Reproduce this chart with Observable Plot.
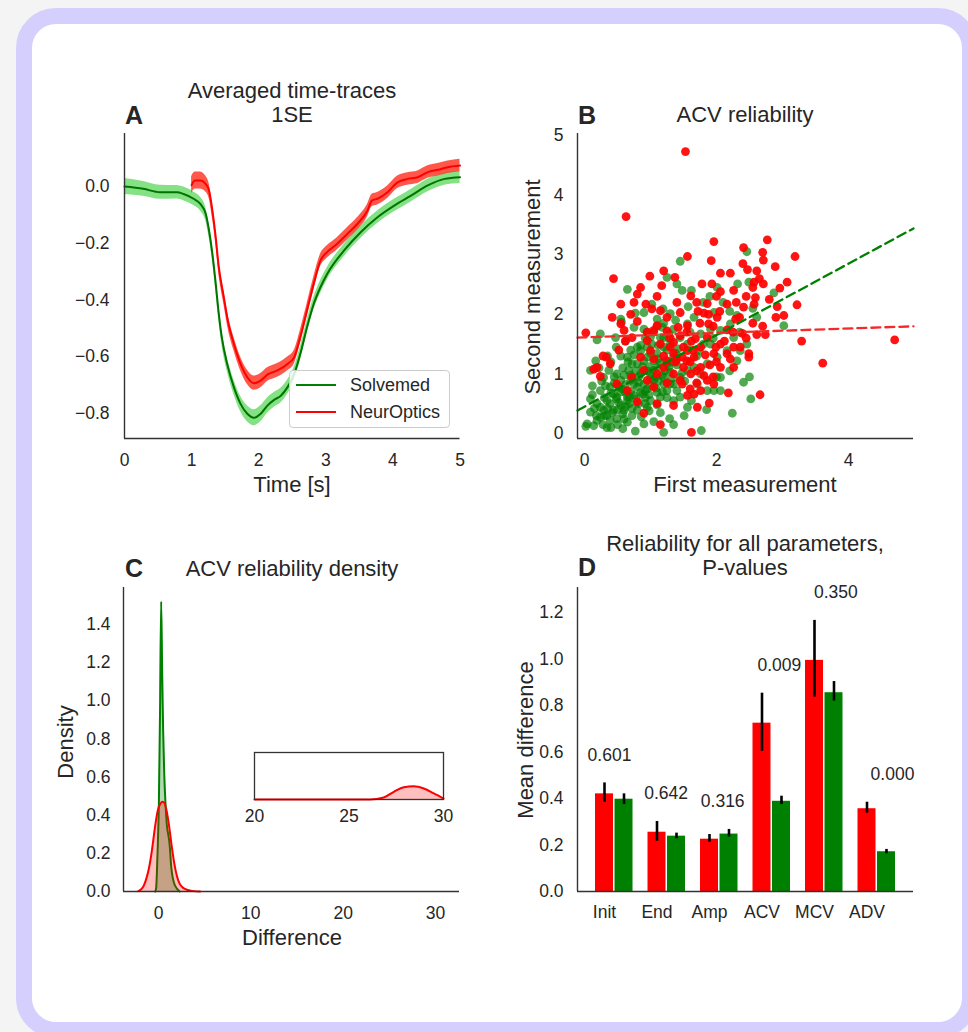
<!DOCTYPE html>
<html><head><meta charset="utf-8">
<script src="https://cdn.jsdelivr.net/npm/d3@7"></script>
<script src="https://cdn.jsdelivr.net/npm/@observablehq/plot@0.6"></script>
<style>
html,body{margin:0;padding:0;width:968px;height:1032px;overflow:hidden;background:#f4f4f4;font-family:"Liberation Sans",Arial,sans-serif;color:#262626;}
#card{position:absolute;left:16px;top:8px;width:962px;height:1030px;box-sizing:border-box;border:16px solid #d4cffd;border-radius:40px;background:#fff;}
.t{position:absolute;transform:translate(-50%,-50%);white-space:nowrap;line-height:1;color:#262626;}
.p{position:absolute;}
#legend{position:absolute;left:289px;top:370px;width:161px;height:58px;box-sizing:border-box;border:1px solid #cccccc;border-radius:4px;background:rgba(255,255,255,0.85);}
.lg{position:absolute;left:6px;width:40px;height:0;border-top:2.5px solid;}
.lt{position:absolute;left:60px;font-size:18px;line-height:1;transform:translateY(-50%);color:#262626;}
</style></head><body>
<div id="card"></div>
<script>
// ---------------- DATA ----------------
const seriesNames = ["Solvemed", "NeurOptics"];

// Panel A: averaged time traces (mean and standard error)
const greenT  = [0, 0.28, 0.53, 0.78, 0.88, 1.03, 1.13, 1.21, 1.26, 1.31, 1.36, 1.40, 1.45, 1.53, 1.63, 1.73, 1.83, 1.93, 2.03, 2.13, 2.23, 2.33, 2.43, 2.53, 2.62, 2.72, 2.82, 2.92, 3.02, 3.27, 3.52, 3.77, 4.02, 4.27, 4.52, 4.77, 5.0];
const greenV  = [0.0, -0.008, -0.02, -0.02, -0.026, -0.043, -0.061, -0.096, -0.155, -0.237, -0.343, -0.437, -0.531, -0.625, -0.707, -0.766, -0.801, -0.815, -0.801, -0.772, -0.752, -0.737, -0.707, -0.660, -0.590, -0.496, -0.414, -0.355, -0.308, -0.226, -0.161, -0.108, -0.067, -0.032, 0.004, 0.027, 0.033];
const greenSE = [0.028, 0.026, 0.025, 0.024, 0.024, 0.024, 0.024, 0.024, 0.024, 0.024, 0.024, 0.024, 0.025, 0.025, 0.026, 0.027, 0.028, 0.028, 0.028, 0.027, 0.026, 0.026, 0.025, 0.025, 0.024, 0.024, 0.023, 0.023, 0.022, 0.022, 0.022, 0.022, 0.022, 0.022, 0.022, 0.022, 0.022];
const redT  = [1.0, 1.05, 1.13, 1.21, 1.26, 1.31, 1.36, 1.40, 1.48, 1.55, 1.63, 1.73, 1.83, 1.93, 2.03, 2.13, 2.28, 2.43, 2.53, 2.62, 2.72, 2.82, 2.92, 3.02, 3.17, 3.32, 3.47, 3.62, 3.69, 3.77, 3.92, 4.07, 4.22, 4.37, 4.52, 4.67, 4.82, 5.0];
const redV  = [0.005, 0.021, 0.021, 0.009, -0.014, -0.085, -0.179, -0.273, -0.39, -0.484, -0.554, -0.625, -0.672, -0.693, -0.684, -0.663, -0.648, -0.625, -0.601, -0.531, -0.437, -0.343, -0.261, -0.231, -0.202, -0.167, -0.132, -0.085, -0.049, -0.043, -0.020, 0.015, 0.027, 0.033, 0.051, 0.059, 0.068, 0.074];
const redSE = [0.03, 0.03, 0.03, 0.028, 0.026, 0.025, 0.024, 0.024, 0.024, 0.024, 0.024, 0.024, 0.025, 0.025, 0.025, 0.024, 0.024, 0.024, 0.024, 0.024, 0.023, 0.023, 0.022, 0.022, 0.022, 0.022, 0.022, 0.022, 0.022, 0.022, 0.022, 0.022, 0.022, 0.022, 0.022, 0.022, 0.022, 0.022];

// Panel B: ACV first vs second measurement
const redPoints = [[1.53,4.73],[0.63,3.64],[0.44,2.60],[2.77,3.25],[1.96,3.22],[2.41,3.12],[3.19,2.97],[1.56,2.97],[2.70,3.04],[2.71,2.91],[1.92,2.90],[2.40,2.85],[2.89,2.80],[1.20,2.73],[2.06,2.69],[2.21,2.69],[2.47,2.75],[2.61,2.73],[0.99,2.64],[1.37,2.62],[3.07,2.54],[1.78,2.51],[1.93,2.51],[2.57,2.54],[2.71,2.51],[1.17,2.48],[2.96,2.44],[0.80,2.34],[1.61,2.31],[2.06,2.38],[2.26,2.40],[2.59,2.28],[3.22,2.16],[0.75,2.20],[0.93,2.17],[1.02,2.09],[1.40,2.20],[1.70,2.20],[1.86,2.18],[2.16,2.17],[2.41,2.12],[2.57,2.17],[2.92,2.13],[1.45,2.03],[1.81,2.02],[2.01,1.95],[2.29,1.92],[0.55,1.84],[0.80,1.88],[1.10,1.81],[1.56,1.81],[1.88,1.84],[3.02,1.98],[0.02,1.69],[2.61,1.66],[2.74,1.66],[2.39,1.68],[2.16,1.74],[1.25,1.72],[3.29,1.55],[4.70,1.57],[3.61,1.18],[2.66,0.65],[1.62,0.02],[1.15,0.15],[2.18,0.68],[1.89,0.51],[1.35,0.47],[1.10,0.50],[0.90,0.34],[0.95,0.89],[1.56,0.64],[1.66,0.66],[1.76,0.72],[1.81,0.97],[2.06,1.11],[2.21,1.25],[2.49,1.28],[2.49,1.34],[2.36,1.45],[1.99,1.45],[1.83,1.32],[1.66,1.28],[1.50,1.11],[1.45,0.89],[1.35,1.00],[1.25,1.22],[1.15,1.50],[1.00,1.39],[0.85,1.28],[0.52,1.40],[0.33,1.28],[0.19,1.11],[0.24,0.96],[0.14,1.08],[0.60,1.73],[0.72,1.61],[1.05,1.73],[0.95,1.56],[1.35,1.53],[1.68,1.59],[1.76,1.45],[1.96,1.34],[2.16,1.34],[2.26,1.11],[1.76,1.11],[1.61,1.00],[1.86,0.89],[1.96,0.83],[1.05,0.78],[0.80,0.53],[0.65,0.72],[0.49,0.83],[2.26,1.45],[2.06,1.50],[1.35,1.34],[1.48,1.28],[1.20,1.11],[1.10,1.00],[0.90,1.06],[0.72,0.94],[0.39,1.17],[1.56,1.39],[1.45,1.64],[1.86,1.61],[1.25,1.95],[1.15,2.06],[0.55,2.17],[1.48,0.83],[1.71,0.44],[1.30,1.45],[1.40,1.25],[1.60,1.20],[1.70,1.05],[1.20,1.30],
  [1.30,1.60],[1.42,1.78],[1.55,1.70],[1.62,1.55],[1.75,1.85],[1.88,2.00],[1.95,1.80],[2.05,2.05],[2.12,1.55],[2.25,1.70],[2.35,1.95],[2.45,2.30],[2.55,2.45],[2.65,2.60],[2.30,2.20],[2.00,2.30],[1.72,2.05],[1.50,1.45],[1.38,1.20],[1.55,1.22],[1.65,1.40],[1.90,1.15],[2.00,1.20],[1.95,0.95],[1.70,0.85],[1.60,0.75],[1.25,0.85],[1.05,1.25],[0.95,1.70],[0.70,2.00],[0.62,1.55],[0.42,1.95],[0.28,1.30],[0.85,2.45],[1.10,2.30],[2.80,2.25],[2.90,1.95],[2.55,1.85],[2.45,1.60],[2.70,1.80]];
const greenPoints = [[2.46,3.05],[1.45,2.89],[0.65,2.42],[1.48,2.40],[1.25,2.62],[1.40,2.51],[2.87,2.36],[2.49,2.54],[2.01,2.45],[2.32,2.51],[1.80,2.20],[3.02,1.81],[1.02,2.17],[1.19,2.09],[1.30,2.01],[0.77,2.02],[0.90,2.03],[0.55,1.92],[0.56,1.87],[0.75,1.78],[0.90,1.75],[1.20,1.85],[1.10,1.92],[0.24,1.67],[0.19,1.57],[0.47,1.61],[0.95,1.45],[1.20,1.61],[1.28,1.67],[1.35,1.75],[1.57,2.13],[1.66,1.95],[1.96,2.03],[1.91,1.75],[2.21,1.84],[2.31,1.98],[2.61,1.95],[2.26,1.61],[2.36,1.39],[2.31,1.22],[1.91,1.50],[1.73,1.39],[2.06,0.94],[2.41,0.86],[2.52,0.58],[2.24,0.34],[1.77,0.05],[1.51,0.30],[1.29,0.25],[1.20,0.02],[0.77,0.04],[0.90,0.16],[0.65,0.19],[0.49,0.25],[0.34,0.10],[0.14,0.13],[0.02,0.12],[0.09,0.36],[0.12,0.65],[0.09,1.06],[0.17,1.22],[0.29,0.94],[0.39,0.78],[0.55,0.89],[0.67,1.06],[0.80,1.17],[0.95,1.28],[1.10,1.34],[1.20,1.45],[1.30,1.50],[1.05,1.22],[0.85,1.00],[1.00,1.00],[1.10,1.11],[1.25,1.17],[1.35,1.28],[0.75,0.83],[0.90,0.83],[1.05,0.89],[1.20,0.94],[1.30,1.03],[0.62,0.69],[0.49,0.61],[0.39,0.50],[0.29,0.39],[0.24,0.27],[0.19,0.22],[0.34,0.30],[0.44,0.39],[0.55,0.47],[0.65,0.55],[0.75,0.64],[0.85,0.69],[0.95,0.75],[1.10,0.69],[1.25,0.72],[1.35,0.83],[1.45,0.94],[1.56,1.06],[1.66,1.11],[1.76,1.00],[1.86,1.17],[2.01,1.28],[1.96,0.72],[1.86,0.72],[1.71,0.83],[1.56,0.44],[1.35,0.55],[1.45,0.61],[1.00,0.55],[0.80,0.39],[0.60,0.39],[0.39,0.22],[0.24,0.44],[0.09,0.58],[0.44,0.66],[0.57,0.75],[0.70,0.89],[0.49,1.00],[0.37,1.06],[0.24,0.72],[0.85,1.39],[1.02,1.50],[1.15,1.61],[1.45,1.61],[1.56,1.50],[1.76,1.67],[1.56,1.84],[2.06,1.73],[2.46,1.50],[2.16,1.39],[2.06,0.72],[0.95,0.44],[1.15,0.61],[1.30,0.83],[0.72,1.17],[0.65,1.28],[0.90,1.22],[1.05,1.06],[1.20,0.83],[0.80,0.78],[0.65,0.61],[0.34,0.55],[0.19,0.50],[0.04,0.16],[0.52,0.52],[0.70,0.70],[0.82,0.95],[0.98,1.12],[1.12,1.25],[0.60,0.98],[0.45,0.85],[1.08,0.95],[0.92,0.60],[0.30,0.60],
  [0.30,0.30],[0.35,0.42],[0.42,0.35],[0.50,0.40],[0.58,0.33],[0.62,0.45],[0.68,0.50],[0.72,0.42],[0.78,0.58],[0.82,0.50],[0.88,0.66],[0.92,0.72],[0.98,0.65],[1.02,0.80],[1.08,0.76],[1.12,0.88],[1.18,0.98],[1.22,1.05],[1.28,1.12],[1.32,1.20],[1.38,1.35],[1.42,1.42],[1.15,1.18],[1.00,0.92],[0.95,1.05],[0.88,1.12],[0.78,1.05],[0.70,0.98],[0.62,0.82],[0.55,0.70],[0.48,0.58],[0.40,0.68],[0.32,0.80],[0.26,0.88],[0.45,0.95],[0.58,1.10],[0.66,1.20],[0.75,1.32],[0.85,1.48],[0.92,1.60],[1.05,1.70],[1.18,1.78],[1.25,1.40],[1.40,1.15],[1.48,1.02],[1.52,0.88],[1.40,0.72],[1.25,0.60],[1.10,0.48],[0.98,0.38],[0.86,0.28],[0.72,0.30],[0.60,0.24],[0.50,0.15],[0.40,0.10],[0.28,0.15],[0.18,0.30],[0.15,0.42],[0.12,0.80],[0.22,1.10],[0.35,1.30],[0.48,1.45],[0.62,1.55],[0.70,1.40],[0.95,1.70],[1.10,1.80],[1.38,1.90],[1.60,1.70],[1.70,1.30],[1.80,1.50],[1.95,1.60],[2.10,2.20],[2.20,2.05],[2.35,1.70],[2.55,2.10],[1.90,2.30],[1.62,2.40],[1.15,0.35],[1.05,0.20],[0.58,0.08],[1.35,0.15],[1.62,0.55],[1.85,0.40],[2.00,0.95],[2.20,1.05],[2.50,0.95],[0.80,1.45],[1.00,1.62],[0.40,1.20],[0.55,1.30],[0.92,0.50],[1.18,0.70],[1.32,0.92],[0.68,0.62],[0.52,0.78],[0.82,0.86],[1.00,1.35],[1.12,1.48],[1.28,1.60]];
const regressions = [
  {series: "Solvemed",   slope: 0.60,  intercept: 0.45},
  {series: "NeurOptics", slope: 0.037, intercept: 1.614}
];

// Panel C: density of ACV differences
const greenDensity = [[-0.35,0],[-0.25,0.02],[-0.18,0.09],[-0.07,0.25],[0.04,0.46],[0.18,1.0],[0.29,1.52],[0.40,1.15],[0.50,0.85],[0.62,0.62],[0.76,0.46],[0.92,0.34],[1.05,0.30],[1.15,0.27],[1.25,0.22],[1.36,0.14],[1.48,0.09],[1.65,0.05],[2.0,0.015],[2.3,0]];
const redDensity = [[-2.2,0.002],[-1.9,0.01],[-1.6,0.03],[-1.3,0.07],[-1.0,0.13],[-0.7,0.22],[-0.4,0.33],[-0.1,0.42],[0.2,0.46],[0.47,0.47],[0.8,0.44],[1.1,0.36],[1.4,0.25],[1.7,0.15],[2.0,0.08],[2.3,0.04],[2.7,0.018],[3.2,0.008],[3.8,0.002],[4.5,0]];
const redDensityTail = [[20,0],[22,0],[24,0],[26.1,0],[26.84,0.00043],[27.37,0.00163],[27.9,0.00262],[28.43,0.00284],[28.96,0.00234],[29.49,0.00128],[30,0.00021]];

// Panel D: mean differences with error bars and p-values
const categories = ["Init", "End", "Amp", "ACV", "MCV", "ADV"];
const redMean   = [0.420, 0.255, 0.225, 0.724, 0.994, 0.356];
const redLo     = [0.384, 0.216, 0.212, 0.603, 0.836, 0.337];
const redHi     = [0.467, 0.301, 0.245, 0.853, 1.166, 0.384];
const greenMean = [0.397, 0.238, 0.247, 0.388, 0.855, 0.171];
const greenLo   = [0.374, 0.227, 0.234, 0.374, 0.819, 0.162];
const greenHi   = [0.420, 0.251, 0.267, 0.410, 0.903, 0.181];
const pValues   = ["0.601", "0.642", "0.316", "0.009", "0.350", "0.000"];

// ---------------- HELPERS ----------------
const GREEN = "#008000", RED = "#ff0000", AXIS = "#333333";
const FONT = "'Liberation Sans', Arial, sans-serif";
const baseStyle = {fontFamily: FONT, fontSize: "17.5px", color: "#262626", background: "transparent", overflow: "visible"};
function put(svg, left, top) { svg.classList.add("p"); svg.style.left = left + "px"; svg.style.top = top + "px"; document.body.appendChild(svg); }
function txt(str, x, y, size = 22, weight = "normal", rotate = 0) {
  const d = document.createElement("div");
  d.className = "t"; d.textContent = str;
  d.style.left = x + "px"; d.style.top = y + "px";
  d.style.fontSize = size + "px"; d.style.fontWeight = weight;
  if (rotate) d.style.transform = `translate(-50%,-50%) rotate(${rotate}deg)`;
  document.body.appendChild(d);
}

// ---------------- PANEL A ----------------
const greenTrace = greenT.map((t, i) => ({t, v: greenV[i], lo: greenV[i] - greenSE[i], hi: greenV[i] + greenSE[i]}));
const redTrace = redT.map((t, i) => ({t, v: redV[i], lo: redV[i] - redSE[i], hi: redV[i] + redSE[i]}));
const xDomA = [0, 5], yDomA = [-0.888, 0.187];
put(Plot.plot({
  width: 440, height: 380, marginLeft: 84, marginRight: 20.5, marginTop: 8, marginBottom: 67,
  style: baseStyle,
  x: {domain: xDomA, ticks: [0, 1, 2, 3, 4, 5], tickFormat: d3.format("d"), tickSize: 0, tickPadding: 15, label: null},
  y: {domain: yDomA, ticks: [-0.8, -0.6, -0.4, -0.2, 0], tickFormat: d3.format(".1f"), tickSize: 0, tickPadding: 15, label: null},
  marks: [
    Plot.areaY(greenTrace, {x: "t", y1: "lo", y2: "hi", fill: "#32cd32", fillOpacity: 0.6, curve: "monotone-x"}),
    Plot.line(greenTrace, {x: "t", y: "v", stroke: "#007300", strokeWidth: 2, curve: "monotone-x"}),
    Plot.areaY(redTrace, {x: "t", y1: "lo", y2: "hi", fill: "#ff3b2b", fillOpacity: 0.85, curve: "monotone-x"}),
    Plot.line(redTrace, {x: "t", y: "v", stroke: RED, strokeWidth: 2, curve: "monotone-x"}),
    Plot.ruleX([xDomA[0]], {stroke: AXIS, strokeWidth: 1.4}),
    Plot.ruleY([yDomA[0]], {stroke: AXIS, strokeWidth: 1.4})
  ]
}), 40, 125);

// legend for A
const lg = document.createElement("div"); lg.id = "legend";
lg.innerHTML = `<div class="lg" style="top:13px;border-color:${GREEN}"></div><div class="lt" style="top:14px">${seriesNames[0]}</div>
<div class="lg" style="top:40px;border-color:${RED}"></div><div class="lt" style="top:41px">${seriesNames[1]}</div>`;
document.body.appendChild(lg);

// ---------------- PANEL B ----------------
const xDomB = [-0.106, 4.985], yDomB = [-0.084, 5.034];
const regLines = regressions.map(r => ({series: r.series, pts: xDomB.map(x => ({x, y: r.intercept + r.slope * x}))}));
put(Plot.plot({
  width: 440, height: 380, marginLeft: 77, marginRight: 27, marginTop: 8, marginBottom: 67,
  style: baseStyle,
  x: {domain: xDomB, ticks: [0, 2, 4], tickFormat: d3.format("d"), tickSize: 0, tickPadding: 15, label: null},
  y: {domain: yDomB, ticks: [0, 1, 2, 3, 4, 5], tickFormat: d3.format("d"), tickSize: 0, tickPadding: 14, label: null},
  marks: [
    Plot.dot(greenPoints, {x: d => d[0], y: d => d[1], r: 4.4, fill: GREEN, fillOpacity: 0.68, stroke: "none"}),
    Plot.dot(redPoints, {x: d => d[0], y: d => d[1], r: 4.4, fill: RED, fillOpacity: 0.92, stroke: "none"}),
    Plot.line(regLines[0].pts, {x: "x", y: "y", stroke: GREEN, strokeWidth: 2.3, strokeDasharray: "9,5"}),
    Plot.line(regLines[1].pts, {x: "x", y: "y", stroke: "#f42a2a", strokeWidth: 2.3, strokeDasharray: "9,5"}),
    Plot.ruleX([xDomB[0]], {stroke: AXIS, strokeWidth: 1.4}),
    Plot.ruleY([yDomB[0]], {stroke: AXIS, strokeWidth: 1.4})
  ]
}), 500, 125);

// ---------------- PANEL C ----------------
const xDomC = [-3.79, 32.6], yDomC = [0, 1.594];
put(Plot.plot({
  width: 440, height: 380, marginLeft: 83, marginRight: 21, marginTop: 8, marginBottom: 68,
  style: baseStyle,
  x: {domain: xDomC, ticks: [0, 10, 20, 30], tickFormat: d3.format("d"), tickSize: 0, tickPadding: 15, label: null},
  y: {domain: yDomC, ticks: [0, 0.2, 0.4, 0.6, 0.8, 1.0, 1.2, 1.4], tickFormat: d3.format(".1f"), tickSize: 0, tickPadding: 13, label: null},
  marks: [
    Plot.areaY(greenDensity, {x: d => d[0], y: d => d[1], fill: GREEN, fillOpacity: 0.3, curve: "monotone-x"}),
    Plot.line(greenDensity, {x: d => d[0], y: d => d[1], stroke: GREEN, strokeWidth: 2, curve: "monotone-x"}),
    Plot.areaY(redDensity, {x: d => d[0], y: d => d[1], fill: RED, fillOpacity: 0.25, curve: "monotone-x"}),
    Plot.line(redDensity, {x: d => d[0], y: d => d[1], stroke: RED, strokeWidth: 2, curve: "monotone-x"}),
    Plot.ruleX([xDomC[0]], {stroke: AXIS, strokeWidth: 1.4}),
    Plot.ruleY([yDomC[0]], {stroke: AXIS, strokeWidth: 1.4})
  ]
}), 40, 579);

// inset (zoom on the right tail)
put(Plot.plot({
  width: 240, height: 90, marginLeft: 24, marginRight: 27, marginTop: 12, marginBottom: 31,
  style: baseStyle,
  x: {domain: [20, 30], ticks: [20, 25, 30], tickFormat: d3.format("d"), tickSize: 0, tickPadding: 10, label: null},
  y: {domain: [0, 0.01], axis: null},
  marks: [
    Plot.areaY(redDensityTail, {x: d => d[0], y: d => d[1], fill: RED, fillOpacity: 0.25, curve: "monotone-x"}),
    Plot.line(redDensityTail, {x: d => d[0], y: d => d[1], stroke: RED, strokeWidth: 2, curve: "monotone-x"}),
    Plot.frame({stroke: AXIS, strokeWidth: 1.3})
  ]
}), 230, 740);

// ---------------- PANEL D ----------------
const yDomD = [0, 1.3075];
const rowsD = categories.map((c, i) => ({cat: c, red: redMean[i], redLo: redLo[i], redHi: redHi[i], green: greenMean[i], greenLo: greenLo[i], greenHi: greenHi[i], p: pValues[i], top: Math.max(redHi[i], greenHi[i]), i}));
const HALF = 19.5; // half of the group band (px)
put(Plot.plot({
  width: 440, height: 380, marginLeft: 77, marginRight: 27, marginTop: 8, marginBottom: 68,
  style: baseStyle,
  x: {domain: categories, paddingInner: 0.257, paddingOuter: 0.3286, round: false, axis: null},
  y: {domain: yDomD, ticks: [0, 0.2, 0.4, 0.6, 0.8, 1.0, 1.2], tickFormat: d3.format(".1f"), tickSize: 0, tickPadding: 14, label: null},
  marks: [
    Plot.barY(rowsD, {x: "cat", y: "red", fill: RED, insetLeft: 0.75, insetRight: HALF + 0.75}),
    Plot.barY(rowsD, {x: "cat", y: "green", fill: GREEN, insetLeft: HALF + 0.75, insetRight: 0.75}),
    Plot.ruleX(rowsD, {x: "cat", y1: "redLo", y2: "redHi", stroke: "#000", strokeWidth: 2.6, dx: -HALF / 2}),
    Plot.ruleX(rowsD, {x: "cat", y1: "greenLo", y2: "greenHi", stroke: "#000", strokeWidth: 2.6, dx: HALF / 2}),
    Plot.text(rowsD, {x: "cat", text: "cat", frameAnchor: "bottom", dy: 21, dx: -HALF / 2, lineAnchor: "middle", fontSize: 17.5, fill: "#262626"}),
    ...rowsD.map(r => Plot.text([r], {x: "cat", y: "top", text: "p", dy: -28, dx: -HALF / 2 + 5 + 4.1 * r.i, lineAnchor: "middle", fontSize: 17.5, fill: "#262626"})),
    Plot.ruleY([yDomD[0]], {stroke: AXIS, strokeWidth: 1.4})
  ]
}), 500, 579);
// left spine for D (frame left edge)
put(Plot.plot({
  width: 440, height: 380, marginLeft: 77, marginRight: 27, marginTop: 8, marginBottom: 68,
  style: baseStyle, x: {domain: [0, 1], axis: null}, y: {domain: yDomD, axis: null},
  marks: [Plot.ruleX([0], {stroke: AXIS, strokeWidth: 1.4})]
}), 500, 579);

// ---------------- TITLES & LABELS ----------------
txt("Averaged time-traces", 292, 91);
txt("1SE", 292, 115);
txt("A", 134, 115, 25, "bold");
txt("Time [s]", 292, 485);

txt("ACV reliability", 745, 115);
txt("B", 587, 115, 25, "bold");
txt("First measurement", 745, 485);
txt("Second measurement", 533, 287, 22, "normal", -90);

txt("ACV reliability density", 292, 569);
txt("C", 134, 568, 25, "bold");
txt("Difference", 292, 938);
txt("Density", 66, 742, 22, "normal", -90);

txt("Reliability for all parameters,", 745, 544);
txt("P-values", 745, 568);
txt("D", 587, 567, 25, "bold");
txt("Mean difference", 526, 740, 22, "normal", -90);
</script>
</body></html>
